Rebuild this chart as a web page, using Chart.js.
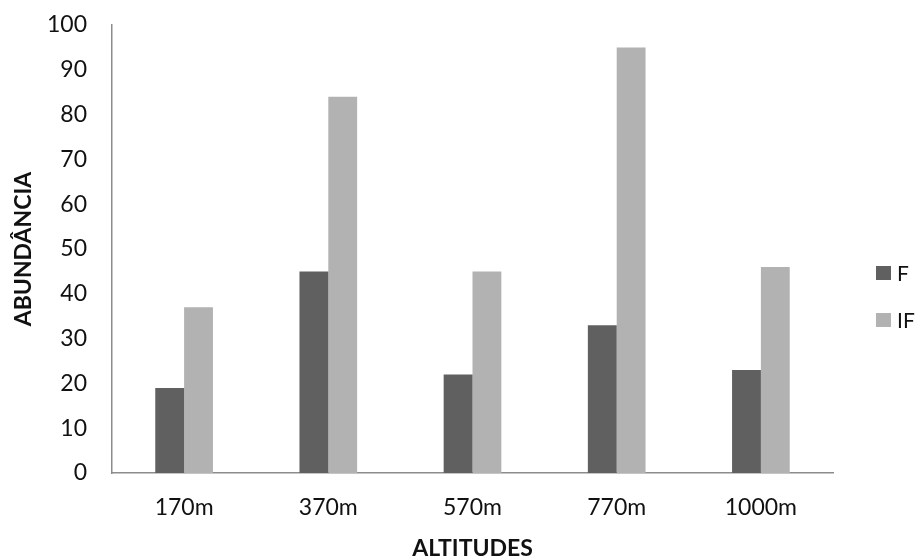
<!DOCTYPE html>
<html>
<head>
<meta charset="utf-8">
<title>Abundância por altitude</title>
<script src="https://cdn.jsdelivr.net/npm/chart.js@4.4.1/dist/chart.umd.min.js"></script>
<style>
  html, body { margin: 0; padding: 0; background: #fff; }
  #wrap { width: 915px; height: 557px; }
</style>
</head>
<body>
<div id="wrap"><canvas id="chart" width="915" height="557"></canvas></div>
<script>
// data
const altitudes = ["170m", "370m", "570m", "770m", "1000m"];
const valuesF = [19, 45, 22, 33, 23];
const valuesIF = [37, 84, 45, 95, 46];
const seriesNames = ["F", "IF"];
const seriesColors = ["#606060", "#b2b2b2"];

const FONT = "Lato";

// Legend on the right, stacked vertically (Excel style)
const sideLegend = {
  id: "sideLegend",
  afterDraw(chart) {
    const ctx = chart.ctx;
    const x = chart.chartArea.right + 43;
    const midY = chart.height / 2 + 18;
    const rowGap = 47;
    const n = chart.data.datasets.length;
    ctx.save();
    ctx.font = "21px " + FONT;
    ctx.textBaseline = "middle";
    ctx.textAlign = "left";
    chart.data.datasets.forEach((ds, i) => {
      const cy = midY + (i - (n - 1) / 2) * rowGap;
      ctx.fillStyle = ds.backgroundColor;
      ctx.fillRect(x, cy - 7, 15, 14);
      ctx.fillStyle = "#111";
      ctx.fillText(ds.label, x + 21, cy + 1);
    });
    ctx.restore();
  },
};

const ctx = document.getElementById("chart").getContext("2d");
new Chart(ctx, {
  type: "bar",
  data: {
    labels: altitudes,
    datasets: [
      {
        label: seriesNames[0],
        data: valuesF,
        backgroundColor: seriesColors[0],
        categoryPercentage: 0.4,
        barPercentage: 1.0,
      },
      {
        label: seriesNames[1],
        data: valuesIF,
        backgroundColor: seriesColors[1],
        categoryPercentage: 0.4,
        barPercentage: 1.0,
      },
    ],
  },
  options: {
    responsive: false,
    animation: false,
    layout: {
      padding: { left: 0, top: 25, right: 82, bottom: 0 },
    },
    plugins: {
      legend: { display: false },
      tooltip: { enabled: false },
    },
    scales: {
      x: {
        grid: { display: false, drawTicks: false },
        border: { display: true, color: "#8c8c8c", width: 1.5 },
        ticks: { color: "#111", padding: 21, font: { family: FONT, size: 23 } },
        title: {
          display: true,
          text: "ALTITUDES",
          color: "#111",
          padding: { top: 0, bottom: -5 },
          font: { family: FONT, size: 23, weight: "bold" },
        },
        afterFit(scale) {
          scale.height = 84;
          scale.paddingLeft = 0;
          scale.paddingRight = 0;
        },
      },
      y: {
        min: 0,
        max: 100,
        grid: { display: false, drawTicks: false },
        border: { display: true, color: "#8c8c8c", width: 1.5 },
        ticks: { stepSize: 10, color: "#111", padding: 25, font: { family: FONT, size: 23 } },
        title: {
          display: true,
          text: "ABUNDÂNCIA",
          color: "#111",
          padding: { top: 10, bottom: 0 },
          font: { family: FONT, size: 23, weight: "bold" },
        },
        afterFit(scale) {
          scale.width = 112;
          scale.paddingTop = 0;
          scale.paddingBottom = 0;
        },
      },
    },
  },
  plugins: [sideLegend],
});
</script>
</body>
</html>
